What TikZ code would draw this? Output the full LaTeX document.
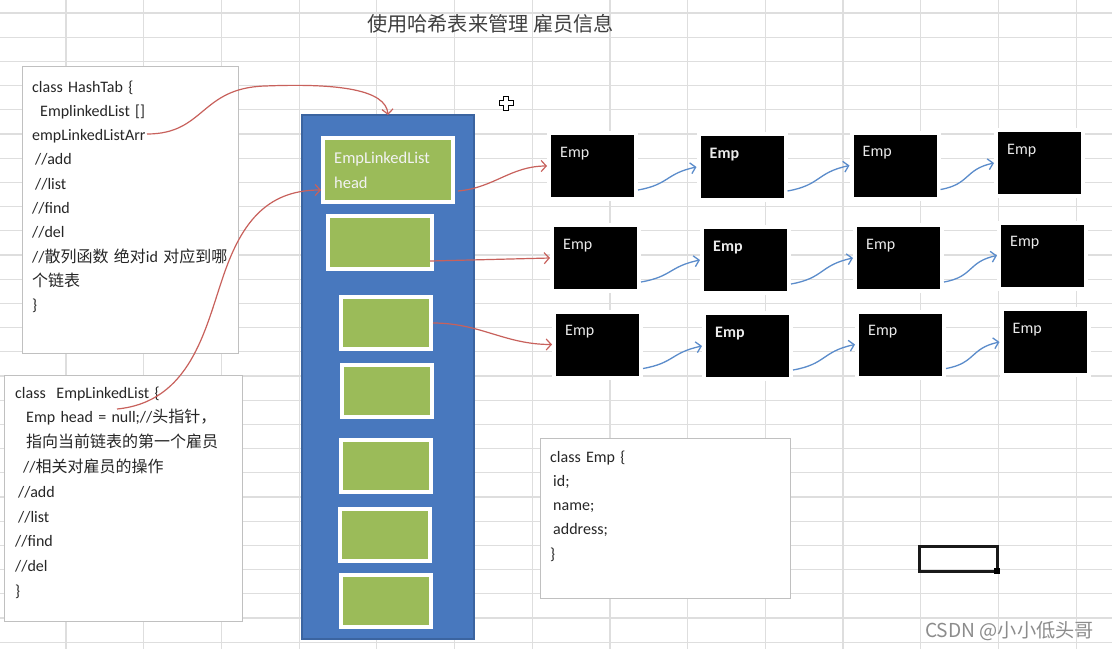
\documentclass[tikz,border=0pt]{standalone}
\usepackage{fontspec}
\setmainfont{Carlito}
\newfontfamily\cjk{Noto Sans CJK SC}
\usetikzlibrary{arrows.meta,shadows,positioning}

\definecolor{gridgray}{HTML}{DEDEDE}
\definecolor{boxline}{HTML}{C0C0C0}
\definecolor{codegray}{HTML}{262626}
\definecolor{slotblue}{HTML}{4878BE}
\definecolor{slotedge}{HTML}{3B64A0}
\definecolor{slotgreen}{HTML}{9BBB59}
\definecolor{linkred}{HTML}{C8615C}
\definecolor{linkblue}{HTML}{5B8CCB}

\begin{document}
\begin{tikzpicture}[x=1pt,y=-1pt,
  gridline/.style={draw=gridgray,line width=1.2pt},
  codebox/.style={draw=boxline,fill=white,line width=1pt,inner sep=0pt,outer sep=0pt,anchor=north west},
  codetxt/.style={anchor=base west,inner sep=0pt,text=codegray,text width=250pt,align=left,font=\fontsize{16}{24.3}\selectfont},
  bucketbox/.style={draw=slotedge,fill=slotblue,line width=1.5pt,inner sep=0pt,outer sep=0pt,anchor=north west},
  slot/.style={draw=white,fill=slotgreen,line width=4pt,inner sep=0pt,outer sep=0pt,drop shadow={opacity=0.25,shadow xshift=1.5pt,shadow yshift=-1.5pt}},
  emp/.style={draw=white,fill=black,line width=4pt,minimum width=87pt,minimum height=66pt,inner sep=0pt,outer sep=0pt,drop shadow={opacity=0.2,shadow xshift=1.5pt,shadow yshift=-1.5pt}},
  emplabel/.style={anchor=base west,inner sep=0pt,text=white!92!black,font=\fontsize{16}{18}\selectfont},
  redlink/.style={draw=linkred,line width=1.2pt,-{Straight Barb[length=5pt,width=11pt]}},
  bluelink/.style={draw=linkblue,line width=1.3pt,-{Straight Barb[length=5pt,width=11pt]}}]

\useasboundingbox (0,0) rectangle (1112,649);
\fill[white] (0,0) rectangle (1112,649);

% sheet grid
\foreach \gx in {0,...,13}
  \draw[gridline] ({66+77.7*\gx},0) -- ++(0,649);
\foreach \gy in {0,...,26}
  \draw[gridline] (0,{13+24.2*\gy}) -- ++(1112,0);

\node[font=\cjk\fontsize{20.2}{22}\selectfont,text=black!75] (title) at (490.5,24) {使用哈希表来管理 雇员信息};

% class HashTab
\node[codebox,minimum width=216pt,minimum height=287pt] (hashbox) at (22,66) {};
\node[codetxt] (hashtext) at ([shift={(10,26)}]hashbox.north west) {class HashTab \{\\
\hspace*{8pt}EmplinkedList []\\
empLinkedListArr\\
\hspace*{3pt}//add\\
\hspace*{3pt}//list\\
//find\\
//del\\
//{\cjk 散列函数 绝对}id {\cjk 对应到哪}\\
{\cjk 个链表}\\
\}};
\coordinate (arrend) at (147,134);

% class EmpLinkedList
\node[codebox,minimum width=238pt,minimum height=246pt] (listbox) at (4,375) {};
\node[codetxt,font=\fontsize{16}{24.8}\selectfont] (listtext) at ([shift={(11,23)}]listbox.north west) {class\ \ EmpLinkedList \{\\
\hspace*{11pt}Emp head = null;//{\cjk 头指针，}\\
\hspace*{11pt}{\cjk 指向当前链表的第一个雇员}\\
\hspace*{8pt}//{\cjk 相关对雇员的操作}\\
\hspace*{3pt}//add\\
\hspace*{3pt}//list\\
//find\\
//del\\
\}};
\coordinate (liststart) at (117,409);

% class Emp
\node[codebox,minimum width=250pt,minimum height=160pt] (empbox) at (540,438) {};
\node[codetxt] (emptext) at ([shift={(10,24)}]empbox.north west) {class Emp \{\\
\hspace*{3pt}id;\\
\hspace*{3pt}name;\\
\hspace*{3pt}address;\\
\}};

% hash table array
\node[bucketbox,minimum width=172pt,minimum height=524pt] (table) at (302,115) {};
\node[slot,minimum width=130pt,minimum height=64pt] (b1) at (388,170) {};
\node[emplabel,text=white!95!black,font=\fontsize{16.5}{25}\selectfont,text width=120pt,align=left] (b1text) at ([shift={(11,25)}]b1.north west) {EmpLinkedList\\head};
\node[slot,minimum width=104pt,minimum height=53pt] (b2) at (380,242.5) {};
\foreach \n/\cx/\cy in {3/386/323,4/387/391,5/386/466,6/385/535,7/386/601}
  \node[slot,minimum width=90pt,minimum height=52pt] (b\n) at (\cx,\cy) {};

% employees
\foreach \r/\c/\ex/\ey in {1/1/592.5/166,1/2/742/167,1/3/895/165.5,1/4/1039.5/163,
                           2/1/595.5/258,2/2/745.5/260,2/3/898.5/258,2/4/1042.5/255.5,
                           3/1/597.5/344.5,3/2/747.5/346,3/3/900.5/344.5,3/4/1045/342}{
  \node[emp] (e\r\c) at (\ex,\ey) {};
  \node[emplabel] (t\r\c) at ([shift={(11,24)}]e\r\c.north west) {\ifnum\c=2\bfseries\fi Emp};
}

% next links
\foreach \r in {1,2,3}
  \foreach \c/\d in {1/2,2/3,3/4}
    \draw[bluelink] ([shift={(2,24)}]e\r\c.east) to[out=10,in=192,looseness=1.3] ([shift={(-2,0)}]e\r\d.west);

% head links
\draw[redlink] ([shift={(5,21)}]b1.east) to[out=5,in=180] ([shift={(-2,0)}]e11.west);
\draw[redlink] ([shift={(-2,18.5)}]b2.east) -- ([shift={(-2,0)}]e21.west);
\draw[redlink] ([shift={(2,0)}]b3.east) to[out=0,in=180] ([shift={(-2,0)}]e31.west);

\draw[redlink] (arrend) .. controls (205,134) and (200,88) .. (265,86)
  .. controls (340,83) and (386,90) .. (table.north);
\draw[redlink] (liststart) .. controls (190,402) and (205,330) .. (222,280)
  .. controls (240,225) and (265,190) .. ([shift={(-2,20)}]b1.west);

% cursor
\draw[fill=white,line width=1pt] (503.5,96) -- (508.5,96) -- (508.5,100.5) -- (513,100.5) -- (513,105.5)
  -- (508.5,105.5) -- (508.5,110) -- (503.5,110) -- (503.5,105.5) -- (499,105.5) -- (499,100.5) -- (503.5,100.5) -- cycle;

% selected cell
\node[draw=black!90,line width=3pt,minimum width=78pt,minimum height=25pt,inner sep=0pt,outer sep=0pt,anchor=north west] (cell) at (919,546) {};
\fill[black] ([shift={(-3,-3)}]cell.south east) rectangle ([shift={(3,3)}]cell.south east);

\node[anchor=base west,inner sep=0pt,text=black!45,font=\cjk\fontsize{19.2}{21}\selectfont] (mark) at (925,637) {CSDN @小小低头哥};
\end{tikzpicture}
\end{document}
